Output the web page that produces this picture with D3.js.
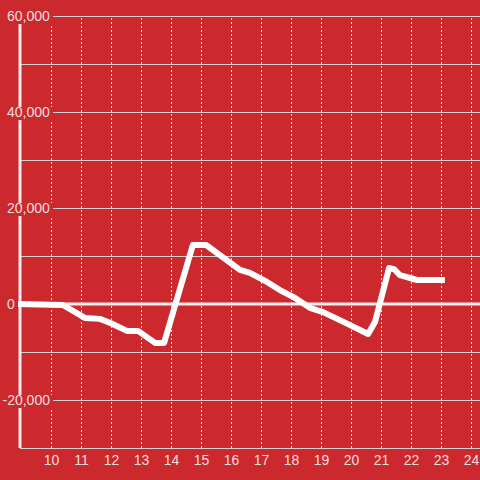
<!DOCTYPE html>
<html>
<head>
<meta charset="utf-8">
<script src="https://cdnjs.cloudflare.com/ajax/libs/d3/7.8.5/d3.min.js"></script>
<style>
  body { margin: 0; background: #cc292e; }
  svg { display: block; }
  text { font-family: "Liberation Sans", Arial, sans-serif; }
</style>
</head>
<body>
<div id="chart"></div>
<script>
// values
var hours  = [8.85, 10.4, 11.13, 11.63, 12.0, 12.53, 12.9, 13.47, 13.77, 14.73, 15.17, 16.3, 16.63, 17.2, 17.63, 18.07, 18.63, 19.07, 19.97, 20.57, 20.8, 21.27, 21.45, 21.63, 22.2, 23.13];
var values = [0, -200, -2900, -3100, -4000, -5600, -5600, -8100, -8100, 12300, 12300, 7100, 6500, 4600, 2900, 1500, -800, -1700, -4400, -6250, -3750, 7500, 7200, 6000, 5000, 5000];
var xTicks = [10, 11, 12, 13, 14, 15, 16, 17, 18, 19, 20, 21, 22, 23, 24];
var yGrid = [-30000, -20000, -10000, 0, 10000, 20000, 30000, 40000, 50000, 60000];
var yLabels = [-20000, 0, 20000, 40000, 60000];

var width = 480, height = 480;
var bg = "#cc292e";

var svg = d3.select("#chart").append("svg")
    .attr("width", width)
    .attr("height", height);

svg.append("rect").attr("width", width).attr("height", height).attr("fill", bg);

var x = d3.scaleLinear().domain([9, 24]).range([21, 471]);
var y = d3.scaleLinear().domain([-30000, 60000]).range([448, 16]);

// horizontal grid
svg.append("g")
    .attr("transform", "translate(20,0)")
    .call(d3.axisLeft(y).tickValues(yGrid).tickSize(-460).tickFormat(""))
    .call(function(g) {
        g.select(".domain").remove();
        g.selectAll(".tick line").attr("stroke", "#d2d2d2").attr("stroke-width", 1);
    });

// vertical dotted grid + x labels
svg.append("g")
    .attr("transform", "translate(0,448)")
    .call(d3.axisBottom(x).tickValues(xTicks).tickSize(-432).tickPadding(7).tickFormat(d3.format("d")))
    .call(function(g) {
        g.select(".domain").remove();
        g.selectAll(".tick line").attr("stroke", "#e6e6e6").attr("stroke-dasharray", "2,2");
        g.selectAll(".tick text")
            .attr("fill", "#f3dede")
            .style("font-size", "14px")
            .style("font-family", "'Liberation Sans', Arial, sans-serif");
    });

// bottom axis line
svg.append("line")
    .attr("x1", 20).attr("x2", width)
    .attr("y1", y(-30000) + 0.5).attr("y2", y(-30000) + 0.5)
    .attr("stroke", "#d2d2d2");

// y axis line
svg.append("line")
    .attr("x1", 20).attr("x2", 20)
    .attr("y1", y(60000)).attr("y2", y(-30000))
    .attr("stroke", "#f4eeee").attr("stroke-width", 3);

// zero line
svg.append("line")
    .attr("x1", 17).attr("x2", width)
    .attr("y1", y(0)).attr("y2", y(0))
    .attr("stroke", "#f4eeee").attr("stroke-width", 3);

// data line
var pts = hours.map(function(h, i) { return [h, values[i]]; });
var line = d3.line()
    .x(function(d) { return x(d[0]); })
    .y(function(d) { return y(d[1]); });

svg.append("path")
    .datum(pts)
    .attr("d", line)
    .attr("fill", "none")
    .attr("stroke", "#ffffff")
    .attr("stroke-width", 6)
    .attr("stroke-linejoin", "round");

// y labels with a background patch
var fmt = d3.format(",");
var lab = svg.append("g").selectAll("g")
    .data(yLabels)
    .enter().append("g");

lab.append("text")
    .attr("x", function(d) { return d < 0 ? 2.5 : 7; })
    .attr("y", function(d) { return y(d); })
    .attr("dy", "0.35em")
    .attr("fill", "#f3dede")
    .style("font-size", "14px")
    .text(function(d) { return fmt(d).replace("−", "-"); });

lab.each(function() {
    var g = d3.select(this);
    var t = g.select("text");
    var bb = t.node().getBBox();
    g.insert("rect", "text")
        .attr("x", bb.x - 2)
        .attr("y", +t.attr("y") - 5)
        .attr("width", bb.width + 5)
        .attr("height", 13)
        .attr("fill", bg);
});
</script>
</body>
</html>
